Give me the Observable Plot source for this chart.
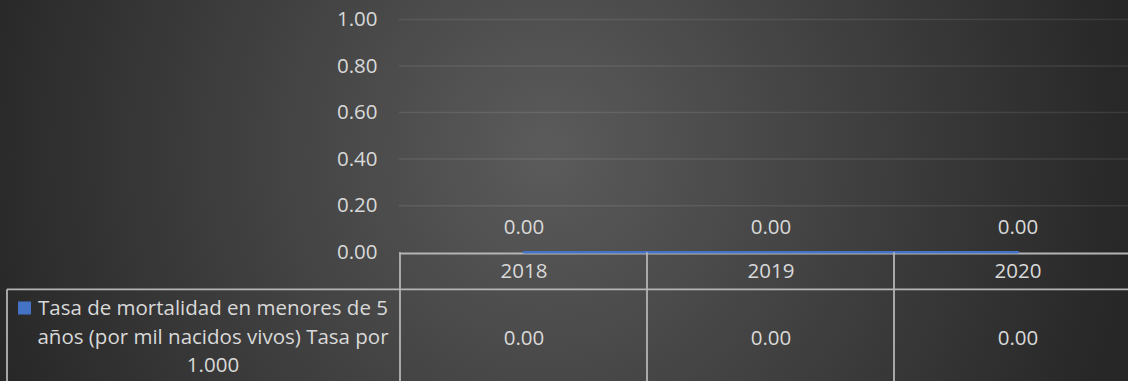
<!DOCTYPE html>
<html>
<head>
<meta charset="utf-8">
<script src="https://cdn.jsdelivr.net/npm/d3@7"></script>
<script src="https://cdn.jsdelivr.net/npm/@observablehq/plot@0.6"></script>
<style>
  html, body { margin: 0; padding: 0; background: #2a2a2a; }
  #chart {
    width: 1128px; height: 381px; position: relative; overflow: hidden;
    background: radial-gradient(ellipse 52% 160% at 48.5% 40%, #5b5b5b 0%, #272727 100%);
    font-family: "Open Sans", sans-serif;
  }
  #chart svg { display: block; }
</style>
</head>
<body>
<div id="chart"></div>
<script>
// ---- data ----
const years = ["2018", "2019", "2020"];
const values = [0.00, 0.00, 0.00];
const yTicks = [0.00, 0.20, 0.40, 0.60, 0.80, 1.00];
const seriesLines = ["Tasa de mortalidad en menores de 5", "años (por mil nacidos vivos) Tasa por", "1.000"];

const data = years.map((year, i) => ({year, value: values[i]}));
const fmt = d3.format(".2f");

const textColor = "#d9d9d9";
const lineColor = "#b4b4b4";
const blue = "#4472c4";
const fs = 20.5;

const W = 1128, H = 381;
const mTop = 19, mBottom = 129.3, mLeft = 399;
const axisY = H - mBottom;

const plot = Plot.plot({
  width: W,
  height: H,
  marginLeft: mLeft,
  marginRight: 0,
  marginTop: mTop,
  marginBottom: mBottom,
  style: {background: "transparent", color: textColor, fontFamily: "'Open Sans', sans-serif", fontSize: fs + "px", overflow: "visible"},
  x: {type: "band", domain: years, range: [399, 1141], padding: 0, axis: null},
  y: {domain: [0, 1], axis: null},
  marks: [
    Plot.ruleY(yTicks.filter(v => v > 0), {stroke: "#ffffff", strokeOpacity: 0.09, strokeWidth: 1.5}),
    Plot.axisY(yTicks, {tickSize: 0, tickPadding: 22, tickFormat: fmt, fontSize: fs, fill: textColor, label: null}),
    Plot.ruleY([0], {stroke: lineColor, strokeWidth: 2, dy: 1.3}),
    Plot.lineY(data, {x: "year", y: "value", stroke: blue, strokeWidth: 2.4}),
    Plot.text(data, {x: "year", y: "value", text: d => fmt(d.value), dy: -24.5, fontSize: fs, fill: textColor}),
    // data table: category row and value row
    Plot.text(data, {x: "year", frameAnchor: "bottom", lineAnchor: "middle", text: "year", dy: 19.5, fontSize: fs, fill: textColor}),
    Plot.text(data, {x: "year", frameAnchor: "bottom", lineAnchor: "middle", text: d => fmt(d.value), dy: 86, fontSize: fs, fill: textColor})
  ]
});

document.getElementById("chart").appendChild(plot);

// table grid lines using Plot's x scale
const xs = plot.scale("x");
const svg = d3.select(plot);
const g = svg.append("g").attr("stroke", lineColor).attr("stroke-width", 1.8).attr("fill", "none");
const rowLine = 289.3;
years.forEach(y => {
  const x0 = xs.apply(y);
  g.append("line").attr("x1", x0).attr("x2", x0).attr("y1", axisY + 0.5).attr("y2", H + 5);
});
const lastEdge = xs.apply(years[years.length - 1]) + xs.bandwidth;
g.append("line").attr("x1", lastEdge).attr("x2", lastEdge).attr("y1", axisY).attr("y2", H + 5);
g.append("line").attr("x1", 7).attr("x2", W + 20).attr("y1", rowLine).attr("y2", rowLine);
g.append("line").attr("x1", 7).attr("x2", 7).attr("y1", rowLine).attr("y2", H + 5);

// series legend cell
const cx = 213;
const baselines = [315, 343.5, 372];
const lg = svg.append("g").attr("fill", textColor).attr("font-size", fs).attr("font-family", "'Open Sans', sans-serif").attr("text-anchor", "middle");
const nodes = seriesLines.map((t, i) => lg.append("text").attr("x", cx).attr("y", baselines[i]).text(t));
const w1 = nodes[0].node().getComputedTextLength();
svg.append("rect")
  .attr("x", cx - w1 / 2 - 20).attr("y", 301.5).attr("width", 13).attr("height", 13)
  .attr("fill", blue);
</script>
</body>
</html>
